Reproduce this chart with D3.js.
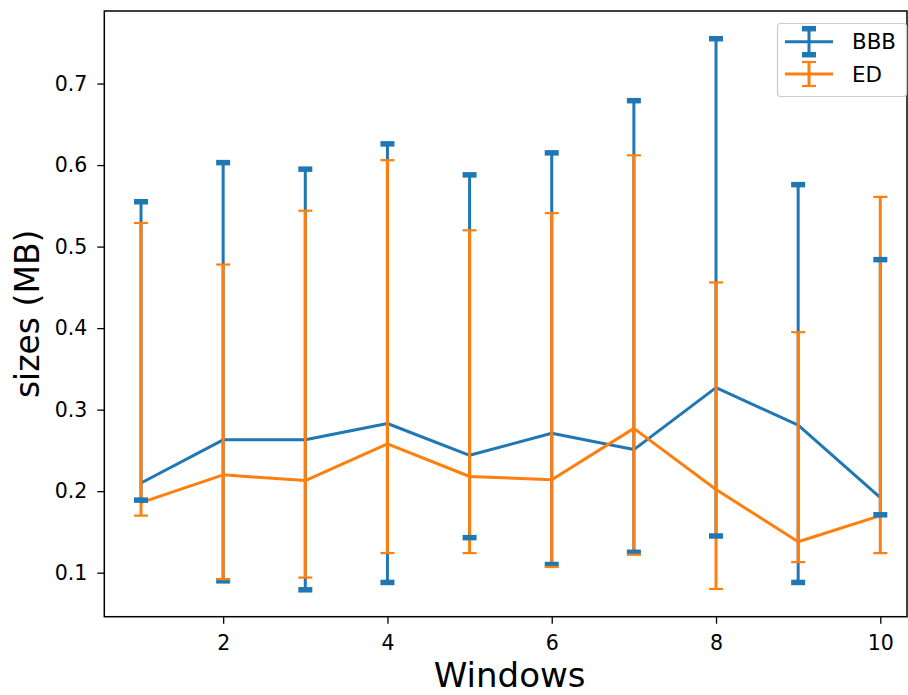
<!DOCTYPE html>
<html>
<head>
<meta charset="utf-8">
<script src="https://cdn.jsdelivr.net/npm/d3@7"></script>
<style>
  body { margin: 0; background: #fff; }
  text { font-family: "DejaVu Sans", sans-serif; }
</style>
</head>
<body>
<svg id="chart" width="908" height="695"></svg>
<script>
const windows = [1, 2, 3, 4, 5, 6, 7, 8, 9, 10];
const bbbMean  = [0.210, 0.263, 0.263, 0.283, 0.244, 0.271, 0.251, 0.327, 0.281, 0.192];
const bbbLow   = [0.189, 0.090, 0.079, 0.088, 0.143, 0.110, 0.125, 0.145, 0.088, 0.171];
const bbbHigh  = [0.555, 0.603, 0.595, 0.626, 0.588, 0.615, 0.679, 0.755, 0.576, 0.484];
const edMean   = [0.186, 0.220, 0.213, 0.258, 0.218, 0.214, 0.277, 0.202, 0.138, 0.170];
const edLow    = [0.170, 0.092, 0.094, 0.124, 0.124, 0.107, 0.122, 0.080, 0.113, 0.124];
const edHigh   = [0.529, 0.478, 0.544, 0.606, 0.520, 0.541, 0.612, 0.456, 0.395, 0.561];
const xTicks = [2, 4, 6, 8, 10];
const yTicks = [0.1, 0.2, 0.3, 0.4, 0.5, 0.6, 0.7];
const seriesNames = ["BBB", "ED"];
const colors = ["#1f77b4", "#ff7f0e"];

const svg = d3.select("#chart");
const L = 104.3, R = 907, T = 11, B = 616.7;
const x = d3.scaleLinear().domain([0.553, 10.325]).range([L, R]);
const y = d3.scaleLinear().domain([0.046, 0.789]).range([B, T]);

const series = [
  { name: seriesNames[0], mean: bbbMean, low: bbbLow, high: bbbHigh, color: colors[0], capH: 5.5, capW: 14 },
  { name: seriesNames[1], mean: edMean, low: edLow, high: edHigh, color: colors[1], capH: 2.2, capW: 14 }
];

const g = svg.append("g");
const line = d3.line().x((d, i) => x(windows[i])).y(d => y(d));

series.forEach(s => {
  g.append("g").selectAll("line").data(windows).join("line")
    .attr("x1", d => x(d)).attr("x2", d => x(d))
    .attr("y1", (d, i) => y(s.low[i])).attr("y2", (d, i) => y(s.high[i]))
    .attr("stroke", s.color).attr("stroke-width", 3);
  g.append("path").datum(s.mean).attr("d", line)
    .attr("fill", "none").attr("stroke", s.color).attr("stroke-width", 3)
    .attr("stroke-linejoin", "round");
});
series.forEach(s => {
  const cg = g.append("g");
  ["low", "high"].forEach(k => {
    cg.selectAll("rect." + k).data(windows).join("rect").attr("class", k)
      .attr("x", d => x(d) - s.capW / 2).attr("width", s.capW)
      .attr("y", (d, i) => y(s[k][i]) - s.capH / 2).attr("height", s.capH)
      .attr("fill", s.color);
  });
});

const xAxis = d3.axisBottom(x).tickValues(xTicks).tickSize(7).tickPadding(12).tickFormat(d3.format("d"));
const yAxis = d3.axisLeft(y).tickValues(yTicks).tickSize(7).tickPadding(10).tickFormat(d3.format(".1f"));
const gx = svg.append("g").attr("transform", `translate(0,${B})`).call(xAxis);
const gy = svg.append("g").attr("transform", `translate(${L},0)`).call(yAxis);
[gx, gy].forEach(a => {
  a.select(".domain").remove();
  a.selectAll(".tick line").attr("stroke", "#000").attr("stroke-width", 1.3);
  a.selectAll(".tick text").attr("font-size", 20.5).attr("fill", "#000")
    .style("font-family", "'DejaVu Sans', sans-serif");
});
svg.append("rect").attr("x", L).attr("y", T).attr("width", R - L).attr("height", B - T)
  .attr("fill", "none").attr("stroke", "#000").attr("stroke-width", 1.5);

svg.append("text").attr("x", (L + R) / 2 + 4).attr("y", 687).attr("text-anchor", "middle")
  .attr("font-size", 34).text("Windows");
svg.append("text").attr("transform", `translate(39,${(T + B) / 2}) rotate(-90)`)
  .attr("text-anchor", "middle").attr("font-size", 33).text("sizes (MB)");

const lg = svg.append("g").attr("transform", "translate(777,23)");
lg.append("rect").attr("x", 0.5).attr("y", 0.5).attr("width", 129).attr("height", 73).attr("rx", 3)
  .attr("fill", "#fff").attr("fill-opacity", 0.8).attr("stroke", "#cccccc").attr("stroke-width", 1.2);
series.forEach((s, i) => {
  const cy = 18.7 + i * 32.3;
  const cx = 32;
  const cap = i === 0 ? 13 : 12;
  lg.append("line").attr("x1", 8).attr("x2", 56).attr("y1", cy).attr("y2", cy)
    .attr("stroke", s.color).attr("stroke-width", 3);
  lg.append("line").attr("x1", cx).attr("x2", cx).attr("y1", cy - cap).attr("y2", cy + cap)
    .attr("stroke", s.color).attr("stroke-width", 3);
  [-cap, cap].forEach(o => lg.append("rect").attr("x", cx - 7).attr("width", 14)
    .attr("y", cy + o - s.capH / 2).attr("height", s.capH).attr("fill", s.color));
  lg.append("text").attr("x", 75).attr("y", cy + 7.7).attr("font-size", 21.4).attr("fill", "#000").text(s.name);
});
</script>
</body>
</html>
